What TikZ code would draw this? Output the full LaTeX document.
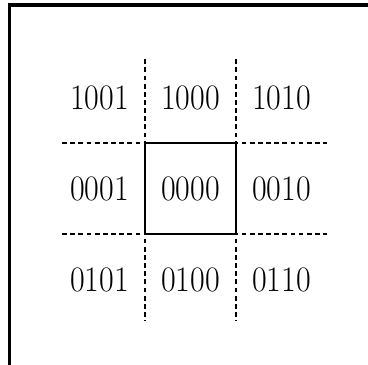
\documentclass[tikz,border=0pt]{standalone}
\usepackage{tikz}
\usetikzlibrary{calc}

\tikzset{
    region/.style = {font=\fontsize{20}{24}\selectfont, yscale=1.12, transform shape, inner sep=0pt},
    clipline/.style = {line width=1.1pt, dash pattern=on 3pt off 2.1pt},
}

\begin{document}
\begin{tikzpicture}[x=2cm,y=2cm]
    \useasboundingbox (-2.093,-1.940) rectangle (1.951,2.071);
    % frame
    \draw[line width=1.9pt] (-1.984,-1.940) -- (-1.984,2.016) -- (1.951,2.016);
    % window
    \draw[line width=1.4pt] (-.5,-.5) rectangle (.5,.5);
    \draw[clipline] (-.5,1.42) -- +(0,-2.87);
    \draw[clipline] (.5,1.42) -- +(0,-2.87);
    \draw[clipline] (-1.41,.5) -- +(2.91,0);
    \draw[clipline] (-1.41,-.5) -- +(2.91,0);
    % outcodes
    \node[region] (n1001) at (-1,1) {1001};
    \node[region] (n1000) at (0,1) {1000};
    \node[region] (n1010) at (1,1) {1010};
    \node[region] (n0001) at (-1,0) {0001};
    \node[region] (n0000) at (0,0) {0000};
    \node[region] (n0010) at (1,0) {0010};
    \node[region] (n0101) at (-1,-1) {0101};
    \node[region] (n0100) at (0,-1) {0100};
    \node[region] (n0110) at (1,-1) {0110};
\end{tikzpicture}
\end{document}
